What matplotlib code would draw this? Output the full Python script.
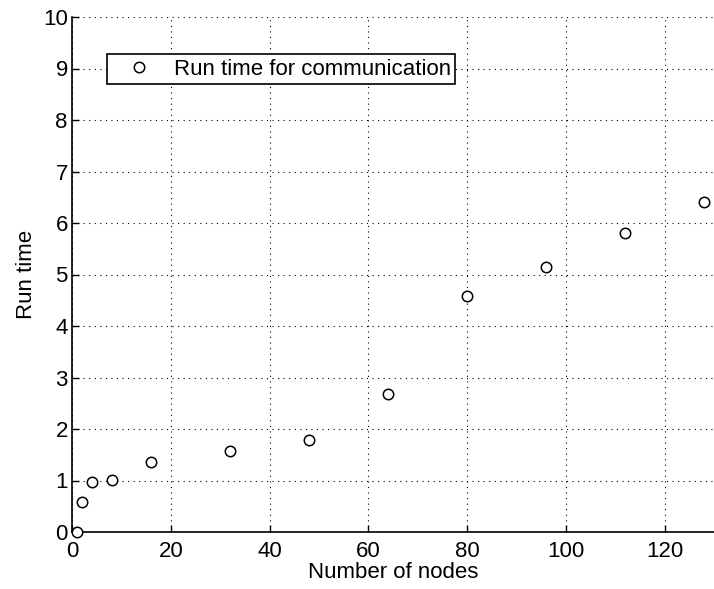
import matplotlib
matplotlib.use("Agg")
import matplotlib.pyplot as plt

nodes = [1, 2, 4, 8, 16, 32, 48, 64, 80, 96, 112, 128]
run_time = [0.0, 0.58, 0.97, 1.01, 1.35, 1.57, 1.78, 2.67, 4.59, 5.15, 5.80, 6.41]
x_ticks = [0, 20, 40, 60, 80, 100, 120]
y_ticks = list(range(0, 11))
legend_label = "Run time for communication"

plt.rcParams['font.family'] = ['Liberation Sans', 'DejaVu Sans']

fig = plt.figure(figsize=(7.14, 5.89), dpi=100)
ax = fig.add_axes([72/714, 57/589, 642/714, 515/589])

ax.plot(nodes, run_time, linestyle='none', marker='o', markersize=7.5,
        markerfacecolor='white', markeredgecolor='black', markeredgewidth=1.1,
        clip_on=False, label=legend_label, zorder=3)

ax.set_xlim(0, 130)
ax.set_ylim(0, 10)
ax.set_xticks(x_ticks)
ax.set_yticks(y_ticks)
ax.tick_params(direction='in', length=5, width=1, labelsize=16)
ax.tick_params(axis='x', pad=6.5)
ax.tick_params(axis='y', pad=3)
ax.grid(True, linestyle=(0, (1, 4)), color='black', linewidth=0.8)
for s in ['top', 'right']:
    ax.spines[s].set_visible(False)
for s in ['left', 'bottom']:
    ax.spines[s].set_linewidth(1.2)

ax.set_xlabel("Number of nodes", fontsize=16, labelpad=0)
ax.set_ylabel("Run time", fontsize=16, labelpad=4)

leg = ax.legend(loc='upper left', bbox_to_anchor=(35/642, 0.928), borderaxespad=0,
                fontsize=16, frameon=True, fancybox=False, framealpha=1,
                edgecolor='black', handletextpad=0.3, borderpad=0.2,
                handlelength=2.5)
leg.get_frame().set_linewidth(1.2)

fig.savefig("out.png", dpi=100)
